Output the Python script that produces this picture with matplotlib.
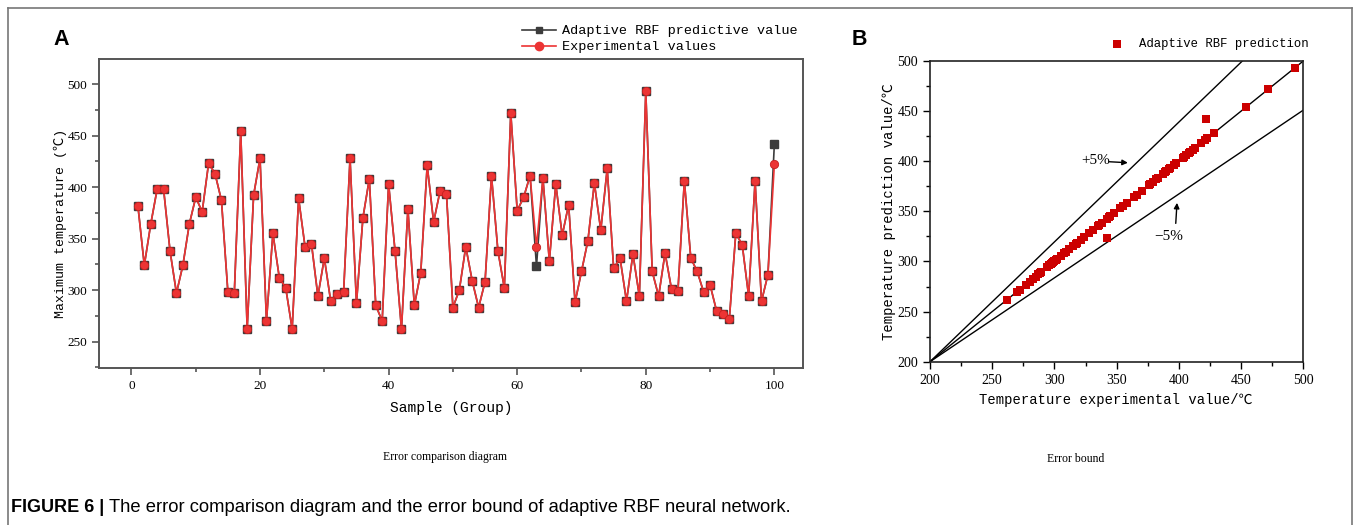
import matplotlib
matplotlib.use('Agg')
import matplotlib.pyplot as plt
from matplotlib.lines import Line2D
from matplotlib.ticker import MultipleLocator

# 数据
samples = list(range(1, 101))
experimental = [382, 324, 364, 398, 398, 338, 297, 324, 364, 390,
                376, 423, 413, 387, 298, 297, 454, 262, 392, 428,
                270, 355, 312, 302, 262, 389, 342, 345, 294, 331,
                289, 296, 298, 428, 287, 370, 408, 285, 270, 403,
                338, 262, 379, 285, 317, 421, 366, 396, 393, 283,
                300, 342, 309, 283, 308, 411, 338, 302, 472, 377,
                390, 411, 342, 409, 328, 403, 353, 383, 288, 318,
                348, 404, 358, 418, 321, 331, 289, 335, 294, 493,
                318, 294, 336, 301, 299, 406, 331, 318, 298, 305,
                280, 277, 272, 355, 344, 294, 406, 289, 315, 422]
predicted = [382, 324, 364, 398, 398, 338, 297, 324, 364, 390,
             376, 423, 413, 387, 298, 297, 454, 262, 392, 428,
             270, 355, 312, 302, 262, 389, 342, 345, 294, 331,
             289, 296, 298, 428, 287, 370, 408, 285, 270, 403,
             338, 262, 379, 285, 317, 421, 366, 396, 393, 283,
             300, 342, 309, 283, 308, 411, 338, 302, 472, 377,
             390, 411, 323, 409, 328, 403, 353, 383, 288, 318,
             348, 404, 358, 418, 321, 331, 289, 335, 294, 493,
             318, 294, 336, 301, 299, 406, 331, 318, 298, 305,
             280, 277, 272, 355, 344, 294, 406, 289, 315, 442]

# 误差界线 (起点与终点)
ideal_x = [200, 500]
ideal_y = [200, 500]
upper_x = [200, 451]
upper_y = [200, 500]
lower_x = [200, 500]
lower_y = [200, 451]

W, H = 1356, 525
fig = plt.figure(figsize=(W / 100, H / 100), dpi=100)

mono = ['Liberation Mono', 'Noto Sans CJK SC', 'DejaVu Sans']
serif = ['Liberation Serif', 'DejaVu Serif']
spine_c = '#555555'
red = '#ec3434'
dark = '#3c3c3c'


def px_axes(l, t, r, b):
    return fig.add_axes([l / W, 1 - b / H, (r - l) / W, (b - t) / H])


# ---------- A ----------
ax = px_axes(99.3, 59.3, 803.3, 368.3)
ax.plot(samples, predicted, color=dark, lw=1.2, marker='s', ms=5.5,
        mfc=dark, mec=dark, zorder=2)
ax.plot(samples, experimental, color=red, lw=1.2, marker='o', ms=6,
        mfc=red, mec='#c42020', mew=0.6, zorder=3)
ax.set_xlim(-5, 104.5)
ax.set_ylim(224, 524)
ax.xaxis.set_major_locator(MultipleLocator(20))
ax.xaxis.set_minor_locator(MultipleLocator(10))
ax.yaxis.set_minor_locator(MultipleLocator(25))
ax.set_yticks([250, 300, 350, 400, 450, 500])
ax.tick_params(which='both', direction='out', color=spine_c, width=1.2)
ax.tick_params(which='major', length=5, labelsize=9.5)
ax.tick_params(which='minor', length=3)
for lab in ax.get_xticklabels() + ax.get_yticklabels():
    lab.set_family(serif)
for s in ax.spines.values():
    s.set_color(spine_c)
    s.set_linewidth(1.4)
ax.set_xlabel('Sample (Group)', family=mono, fontsize=10.5)
ax.set_ylabel('Maximum temperature (℃)', family=mono, fontsize=9.5)
ax.xaxis.set_label_coords(0.5, -0.105)
ax.yaxis.set_label_coords(-0.046, 0.47)

handles = [Line2D([], [], color=dark, lw=1.2, marker='s', ms=5, mfc=dark, mec=dark),
           Line2D([], [], color=red, lw=1.2, marker='o', ms=6, mfc=red, mec=red)]
fig.legend(handles, ['Adaptive RBF predictive value', 'Experimental values'],
           loc='upper left', bbox_to_anchor=(522 / W, 1 - 25 / H),
           frameon=False, borderpad=0, borderaxespad=0, handlelength=2.5,
           handletextpad=0.45, labelspacing=0.25,
           prop={'family': mono, 'size': 9.7})

# ---------- B ----------
bx = px_axes(930, 61, 1303.3, 361.7)
bx.plot(ideal_x, ideal_y, color='black', lw=1.0, zorder=2)
bx.plot(upper_x, upper_y, color='black', lw=1.0, zorder=2)
bx.plot(lower_x, lower_y, color='black', lw=1.0, zorder=2)
bx.scatter(experimental, predicted, marker='s', s=32, color='#cc0000',
           lw=0, zorder=3, label='Adaptive RBF prediction')
bx.set_xlim(200, 500)
bx.set_ylim(200, 500)
for axis in (bx.xaxis, bx.yaxis):
    axis.set_major_locator(MultipleLocator(50))
    axis.set_minor_locator(MultipleLocator(25))
bx.tick_params(which='both', direction='out', color='black', width=1.0)
bx.tick_params(which='major', length=5, labelsize=10)
bx.tick_params(which='minor', length=3)
for lab in bx.get_xticklabels() + bx.get_yticklabels():
    lab.set_family(serif)
for s in bx.spines.values():
    s.set_color('#222222')
    s.set_linewidth(1.2)
bx.set_xlabel('Temperature experimental value/℃', family=mono, fontsize=10)
bx.set_ylabel('Temperature prediction value/℃', family=mono, fontsize=10)
bx.xaxis.set_label_coords(0.498, -0.105)
bx.yaxis.set_label_coords(-0.09, 0.5)

bx.annotate('', xy=(359, 398.5), xytext=(344, 399.5),
            arrowprops=dict(arrowstyle='-|>', color='black', lw=1.0,
                            mutation_scale=8, shrinkA=0, shrinkB=0))
bx.text(333, 401, '+5%', family=serif, fontsize=11, ha='center', va='center')
bx.annotate('', xy=(398.5, 358.5), xytext=(397.5, 338),
            arrowprops=dict(arrowstyle='-|>', color='black', lw=1.0,
                            mutation_scale=8, shrinkA=0, shrinkB=0))
bx.text(392, 325, '−5%', family=serif, fontsize=11, ha='center', va='center')

fig.legend(*bx.get_legend_handles_labels(), loc='upper left',
           bbox_to_anchor=(1111 / W, 1 - 38 / H), frameon=False,
           borderpad=0, borderaxespad=0, handlelength=1.0,
           handletextpad=1.3, prop={'family': mono, 'size': 8.8})

# ---------- 标签, 标题, 边框 ----------
fig.text(53 / W, 1 - 45 / H, 'A', family='Liberation Sans', weight='bold',
         fontsize=15.5, va='baseline')
fig.text(852 / W, 1 - 45 / H, 'B', family='Liberation Sans', weight='bold',
         fontsize=15.5, va='baseline')
fig.text(445 / W, 1 - 457 / H, 'Error comparison diagram', family=serif,
         fontsize=8.5, ha='center', va='center')
fig.text(1076 / W, 1 - 459 / H, 'Error bound', family=serif,
         fontsize=8.5, ha='center', va='center')

t1 = fig.text(11 / W, 1 - 508 / H, 'FIGURE 6 |', family='Liberation Sans',
              weight='bold', fontsize=13, va='center')
fig.canvas.draw()
bb = t1.get_window_extent(fig.canvas.get_renderer())
fig.text(bb.x1 / W + 5 / W, 1 - 508 / H,
         'The error comparison diagram and the error bound of adaptive RBF neural network.',
         family='Liberation Sans', fontsize=13.2, va='center')

for xs, ys in [([8, 8], [525, 8]), ([8, 1352], [8, 8]), ([1352, 1352], [8, 525])]:
    fig.add_artist(Line2D([x / W for x in xs], [1 - y / H for y in ys],
                          color='#777777', lw=1.2))

fig.savefig('out.png', dpi=100)
